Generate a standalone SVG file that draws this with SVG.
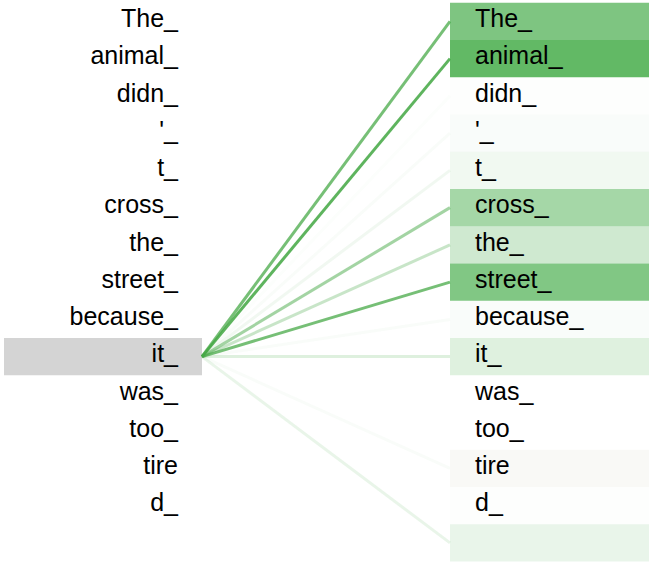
<svg xmlns="http://www.w3.org/2000/svg" width="661" height="570" viewBox="0 0 661 570">
<style>
text{font-family:"Liberation Sans",Arial,Helvetica,sans-serif;font-size:25px;fill:#000}
.l{text-anchor:end}
.b{fill:#4caf50}
.c{stroke:#48aa48;stroke-width:3;fill:none}
</style>
<rect width="661" height="570" fill="#fff"/>
<g id="left">
<rect id="left-highlight" x="4" y="338" width="198" height="37.25" fill="#d4d4d4"/>
<g id="l0"><text class="l" x="178" y="27">The_</text></g>
<g id="l1"><text class="l" x="178" y="64.25">animal_</text></g>
<g id="l2"><text class="l" x="178" y="101.5">didn_</text></g>
<g id="l3"><text class="l" x="178" y="138.75">'_</text></g>
<g id="l4"><text class="l" x="178" y="176">t_</text></g>
<g id="l5"><text class="l" x="178" y="213.25">cross_</text></g>
<g id="l6"><text class="l" x="178" y="250.5">the_</text></g>
<g id="l7"><text class="l" x="178" y="287.75">street_</text></g>
<g id="l8"><text class="l" x="178" y="325">because_</text></g>
<g id="l9"><text class="l" x="178" y="362.25">it_</text></g>
<g id="l10"><text class="l" x="178" y="399.5">was_</text></g>
<g id="l11"><text class="l" x="178" y="436.75">too_</text></g>
<g id="l12"><text class="l" x="178" y="474">tire</text></g>
<g id="l13"><text class="l" x="178" y="511.25">d_</text></g>
</g>
<g id="connectors">
<line class="c" x1="202" y1="356.6" x2="450" y2="21.4" stroke-opacity="0.75"/>
<line class="c" x1="202" y1="356.6" x2="450" y2="58.6" stroke-opacity="0.88"/>
<line class="c" x1="202" y1="356.6" x2="450" y2="95.9" stroke-opacity="0.015"/>
<line class="c" x1="202" y1="356.6" x2="450" y2="133.1" stroke-opacity="0.03"/>
<line class="c" x1="202" y1="356.6" x2="450" y2="170.4" stroke-opacity="0.08"/>
<line class="c" x1="202" y1="356.6" x2="450" y2="207.6" stroke-opacity="0.5"/>
<line class="c" x1="202" y1="356.6" x2="450" y2="244.9" stroke-opacity="0.3"/>
<line class="c" x1="202" y1="356.6" x2="450" y2="282.1" stroke-opacity="0.75"/>
<line class="c" x1="202" y1="356.6" x2="450" y2="319.4" stroke-opacity="0.03"/>
<line class="c" x1="202" y1="356.6" x2="450" y2="356.6" stroke-opacity="0.18"/>
<line class="c" x1="202" y1="356.6" x2="450" y2="468.4" stroke-opacity="0.03"/>
<line class="c" x1="202" y1="356.6" x2="450" y2="542.9" stroke-opacity="0.12"/>
</g>
<g id="right">
<g id="r0"><rect class="b" x="450" y="2.75" width="199" height="37.25" fill-opacity="0.72"/><text x="475" y="27">The_</text></g>
<g id="r1"><rect class="b" x="450" y="40" width="199" height="37.25" fill-opacity="0.88"/><text x="475" y="64.25">animal_</text></g>
<g id="r2"><rect class="b" x="450" y="77.25" width="199" height="37.25" fill-opacity="0.01"/><text x="475" y="101.5">didn_</text></g>
<g id="r3"><rect class="b" x="450" y="114.5" width="199" height="37.25" fill-opacity="0.03"/><text x="475" y="138.75">'_</text></g>
<g id="r4"><rect class="b" x="450" y="151.75" width="199" height="37.25" fill-opacity="0.08"/><text x="475" y="176">t_</text></g>
<g id="r5"><rect class="b" x="450" y="189" width="199" height="37.25" fill-opacity="0.5"/><text x="475" y="213.25">cross_</text></g>
<g id="r6"><rect class="b" x="450" y="226.25" width="199" height="37.25" fill-opacity="0.27"/><text x="475" y="250.5">the_</text></g>
<g id="r7"><rect class="b" x="450" y="263.5" width="199" height="37.25" fill-opacity="0.7"/><text x="475" y="287.75">street_</text></g>
<g id="r8"><rect class="b" x="450" y="300.75" width="199" height="37.25" fill-opacity="0.03"/><text x="475" y="325">because_</text></g>
<g id="r9"><rect class="b" x="450" y="338" width="199" height="37.25" fill-opacity="0.18"/><text x="475" y="362.25">it_</text></g>
<g id="r10"><rect class="b" x="450" y="375.25" width="199" height="37.25" fill-opacity="0"/><text x="475" y="399.5">was_</text></g>
<g id="r11"><rect class="b" x="450" y="412.5" width="199" height="37.25" fill-opacity="0"/><text x="475" y="436.75">too_</text></g>
<g id="r12"><rect x="450" y="449.75" width="199" height="37.25" fill="#f9f9f6"/><text x="475" y="474">tire</text></g>
<g id="r13"><rect class="b" x="450" y="487" width="199" height="37.25" fill-opacity="0.01"/><text x="475" y="511.25">d_</text></g>
<g id="r14"><rect class="b" x="450" y="524.25" width="199" height="37.25" fill-opacity="0.12"/></g>
</g>
</svg>
